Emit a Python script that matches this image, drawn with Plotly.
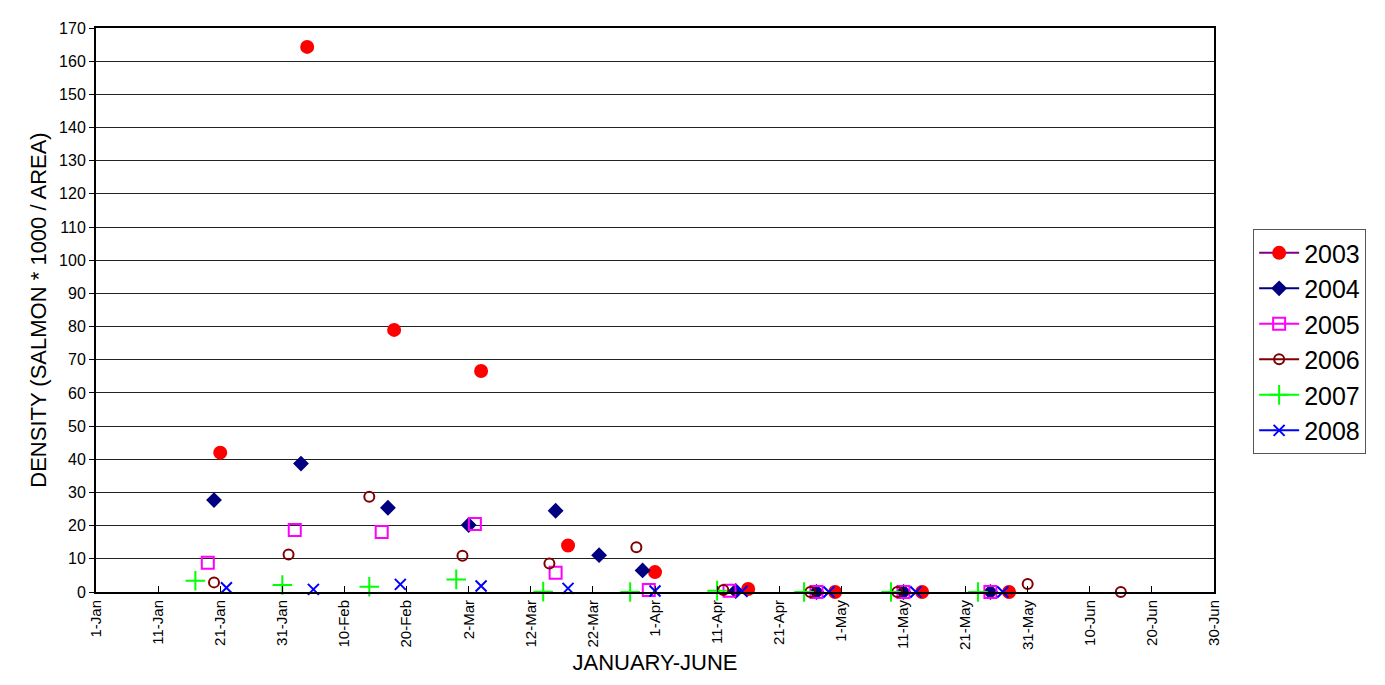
import plotly.graph_objects as go

# Sampling dates (all years plotted on one Jan-Jun calendar, non-leap year)
dates_2003 = ["2001-01-21", "2001-02-04", "2001-02-18", "2001-03-04", "2001-03-18",
              "2001-04-01", "2001-04-16", "2001-04-30", "2001-05-14", "2001-05-28"]
vals_2003 = [42, 164.3, 79, 66.6, 14, 6, 0.9, 0, 0, 0]

dates_2004 = ["2001-01-20", "2001-02-03", "2001-02-17", "2001-03-02", "2001-03-16", "2001-03-23",
              "2001-03-30", "2001-04-14", "2001-04-27", "2001-05-11", "2001-05-25"]
vals_2004 = [27.7, 38.7, 25.4, 20.2, 24.5, 11.1, 6.5, 0.3, 0, 0, 0]

dates_2005 = ["2001-01-19", "2001-02-02", "2001-02-16", "2001-03-03", "2001-03-16",
              "2001-03-31", "2001-04-13", "2001-04-27", "2001-05-11", "2001-05-25"]
vals_2005 = [8.8, 18.7, 18.1, 20.5, 5.8, 0.6, 0.4, 0, 0, 0]

dates_2006 = ["2001-01-20", "2001-02-01", "2001-02-14", "2001-03-01", "2001-03-15", "2001-03-29",
              "2001-04-12", "2001-04-26", "2001-05-10", "2001-05-31", "2001-06-15"]
vals_2006 = [2.9, 11.3, 28.7, 10.9, 8.6, 13.5, 0.6, 0, 0, 2.4, 0]

dates_2007 = ["2001-01-17", "2001-01-31", "2001-02-14", "2001-02-28", "2001-03-14",
              "2001-03-28", "2001-04-11", "2001-04-25", "2001-05-09", "2001-05-23"]
vals_2007 = [3.4, 2.1, 1.6, 3.8, 0.1, 0, 0.4, 0, 0, 0]

dates_2008 = ["2001-01-22", "2001-02-05", "2001-02-19", "2001-03-04", "2001-03-18",
              "2001-04-01", "2001-04-15", "2001-04-29", "2001-05-13", "2001-05-27"]
vals_2008 = [1.3, 0.8, 2.3, 1.8, 1.1, 0.3, 0.2, 0, 0, 0]

# name, x, y, marker colour, legend line colour, symbol, size
series = [
    ("2003", dates_2003, vals_2003, "#FF0000", "#800080", "circle", 12),
    ("2004", dates_2004, vals_2004, "#000080", "#000080", "diamond", 10),
    ("2005", dates_2005, vals_2005, "#FF00FF", "#FF00FF", "square-open", 12),
    ("2006", dates_2006, vals_2006, "#800000", "#800000", "circle-open", 10),
    ("2007", dates_2007, vals_2007, "#00FF00", "#00FF00", "cross-thin-open", 14),
    ("2008", dates_2008, vals_2008, "#0000FF", "#0000FF", "x-thin-open", 11),
]

fig = go.Figure()

for name, x, y, mcol, lcol, sym, size in series:
    # the points themselves (no connecting line)
    fig.add_trace(go.Scatter(
        x=x, y=y, mode="markers", name=name, legendgroup=name, showlegend=False,
        cliponaxis=False,
        marker=dict(symbol=sym, size=size, color=mcol, line=dict(color=mcol, width=2)),
    ))
    # legend entry drawn like Excel: line through marker
    fig.add_trace(go.Scatter(
        x=[None], y=[None], mode="lines+markers", name=name, legendgroup=name,
        line=dict(color=lcol, width=2),
        marker=dict(symbol=sym, size=size, color=mcol, line=dict(color=mcol, width=2)),
    ))

# page body adds an 8px offset, so margins are shifted accordingly
fig.update_layout(
    width=1385, height=685,
    margin=dict(l=88, r=179, t=12, b=101),
    paper_bgcolor="white", plot_bgcolor="white",
    font=dict(family="Arial, Liberation Sans, sans-serif", color="black"),
    legend=dict(
        x=1.035, y=0.444, xanchor="left", yanchor="middle",
        bordercolor="#555", borderwidth=1, font=dict(size=25),
        tracegroupgap=0, itemwidth=40,
    ),
    xaxis=dict(
        type="date",
        range=["2001-01-01", "2001-06-30"],
        tick0="2001-01-01", dtick=10 * 86400000,
        tickformat="%-d-%b", tickangle=-90,
        tickfont=dict(size=15),
        ticks="inside", ticklen=6, tickcolor="black",
        showgrid=False, showline=True, linecolor="black", linewidth=2, mirror=True,
        title=dict(text="JANUARY-JUNE", font=dict(size=22), standoff=6),
    ),
    yaxis=dict(
        range=[0, 170], dtick=10,
        tickfont=dict(size=16),
        ticks="outside", ticklen=5, tickcolor="black",
        showgrid=True, gridcolor="#222", gridwidth=1,
        showline=True, linecolor="black", linewidth=2, mirror=True,
        zeroline=False,
        title=dict(text="DENSITY (SALMON * 1000 / AREA)", font=dict(size=22), standoff=6),
    ),
)

fig.write_html("out.html")
